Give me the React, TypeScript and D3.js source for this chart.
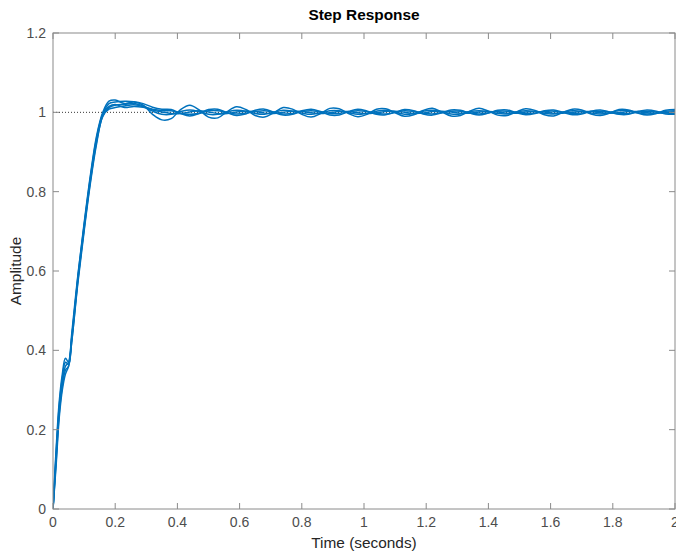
import React from 'react';
import * as d3 from 'd3';

const width = 676;
const height = 552;
const margins = { top: 33, bottom: 43, left: 53, right: 1 };

// sample times (seconds)
const times = [
  0, 0.01, 0.02, 0.03, 0.04, 0.05, 0.06, 0.08, 0.1, 0.12, 0.14, 0.16, 0.18, 0.2, 0.23, 0.26, 0.29, 0.32,
  0.35, 0.38, 0.41, 0.44, 0.47, 0.5, 0.53, 0.56, 0.59, 0.62,
  0.65, 0.68, 0.71, 0.74, 0.77, 0.8, 0.83, 0.86, 0.89, 0.92,
  0.95, 0.98, 1.01, 1.04, 1.07, 1.1, 1.13, 1.16, 1.19, 1.22,
  1.25, 1.28, 1.31, 1.34, 1.37, 1.4, 1.43, 1.46, 1.49, 1.52,
  1.55, 1.58, 1.61, 1.64, 1.67, 1.7, 1.73, 1.76, 1.79, 1.82,
  1.85, 1.88, 1.91, 1.94, 1.97, 2.0,
];

const responseA = [
  0, 0.15, 0.27, 0.34, 0.38, 0.37, 0.44, 0.59, 0.72, 0.84, 0.94, 1.0, 1.028, 1.031, 1.022, 1.026, 1.018, 0.995,
  0.981, 0.984, 1.007, 1.018, 1.006, 0.988, 0.986, 1.002, 1.014, 1.007,
  0.992, 0.988, 0.999, 1.012, 1.008, 0.995, 0.988, 0.997, 1.01, 1.009,
  0.997, 0.989, 0.995, 1.008, 1.009, 0.999, 0.99, 0.994, 1.005, 1.01,
  1.001, 0.991, 0.992, 1.003, 1.01, 1.003, 0.993, 0.992, 1.001, 1.009,
  1.005, 0.994, 0.991, 1.0, 1.008, 1.006, 0.996, 0.992, 0.998, 1.007,
  1.006, 0.998, 0.993, 0.997, 1.005, 1.007,
];

const responseB = [
  0, 0.13, 0.25, 0.32, 0.36, 0.37, 0.43, 0.58, 0.71, 0.83, 0.93, 0.995, 1.022, 1.026, 1.028, 1.027, 1.022, 1.013,
  1.008, 1.007, 0.997, 0.991, 0.997, 1.007, 1.008, 0.999, 0.992, 0.996,
  1.005, 1.008, 1.0, 0.993, 0.995, 1.004, 1.008, 1.002, 0.993, 0.993,
  1.002, 1.008, 1.003, 0.995, 0.994, 1.0, 1.007, 1.004, 0.996, 0.993,
  0.999, 1.006, 1.005, 0.998, 0.993, 0.998, 1.005, 1.006, 0.999, 0.994,
  0.997, 1.004, 1.006, 1.0, 0.994, 0.996, 1.003, 1.006, 1.001, 0.995,
  0.995, 1.002, 1.006, 1.003, 0.996, 0.995,
];

const responseC = [
  0, 0.12, 0.24, 0.31, 0.35, 0.36, 0.42, 0.57, 0.7, 0.82, 0.92, 0.99, 1.008, 1.012, 1.016, 1.019, 1.014, 1.003,
  0.995, 0.995, 1.002, 1.006, 1.002, 0.995, 0.995, 1.001, 1.005, 1.003,
  0.997, 0.995, 1.0, 1.005, 1.003, 0.998, 0.995, 0.999, 1.004, 1.004,
  0.999, 0.995, 0.998, 1.003, 1.005, 1.0, 0.995, 0.997, 1.003, 1.005,
  1.001, 0.996, 0.996, 1.002, 1.004, 1.002, 0.997, 0.996, 1.001, 1.004,
  1.002, 0.997, 0.996, 1.0, 1.004, 1.003, 0.998, 0.996, 0.999, 1.004,
  1.004, 0.999, 0.996, 0.998, 1.003, 1.004,
];

const responseD = [
  0, 0.14, 0.26, 0.33, 0.37, 0.365, 0.43, 0.585, 0.715, 0.835, 0.935, 0.995, 1.015, 1.02, 1.012, 1.015, 1.013, 1.008,
  1.004, 1.004, 0.998, 0.995, 0.998, 1.004, 1.004, 0.999, 0.996, 0.998,
  1.002, 1.004, 1.0, 0.996, 0.997, 1.002, 1.004, 1.001, 0.997, 0.997,
  1.001, 1.004, 1.002, 0.997, 0.996, 1.0, 1.004, 1.002, 0.998, 0.996,
  0.999, 1.003, 1.003, 0.999, 0.996, 0.999, 1.003, 1.003, 0.999, 0.997,
  0.998, 1.002, 1.003, 1.0, 0.997, 0.998, 1.002, 1.003, 1.001, 0.997,
  0.997, 1.001, 1.003, 1.001, 0.998, 0.997,
];

const responseE = [
  0, 0.11, 0.23, 0.3, 0.34, 0.36, 0.42, 0.575, 0.705, 0.825, 0.925, 0.99, 1.012, 1.018, 1.02, 1.022, 1.016, 1.006,
  1.001, 0.997, 0.997, 1.001, 1.004, 1.001, 0.997, 0.997, 1.001, 1.003,
  1.002, 0.998, 0.997, 1.0, 1.003, 1.002, 0.999, 0.997, 0.999, 1.002,
  1.002, 0.999, 0.997, 0.999, 1.002, 1.003, 1.0, 0.997, 0.998, 1.002,
  1.003, 1.001, 0.998, 0.998, 1.001, 1.002, 1.001, 0.998, 0.998, 1.001,
  1.002, 1.001, 0.998, 0.998, 1.0, 1.002, 1.002, 0.999, 0.998, 0.999,
  1.002, 1.002, 0.999, 0.998, 0.999, 1.002,
];

const responses = [responseA, responseB, responseC, responseD, responseE];

const xTicks = [0, 0.2, 0.4, 0.6, 0.8, 1, 1.2, 1.4, 1.6, 1.8, 2];
const yTicks = [0, 0.2, 0.4, 0.6, 0.8, 1, 1.2];
const steadyValue = 1;

const font = "'Liberation Sans', Arial, Helvetica, sans-serif";
const axisColor = '#8a8a8a';
const tickText = '#4d4d4d';
const lineColor = '#0072BD';

export default function App() {
  const x = d3.scaleLinear().domain([0, 2]).range([margins.left, width - margins.right]);
  const y = d3.scaleLinear().domain([0, 1.2]).range([height - margins.bottom, margins.top]);
  const x0 = margins.left;
  const x1 = width - margins.right;
  const y0 = height - margins.bottom;
  const y1 = margins.top;
  const tickLen = 6;
  const fmt = d3.format('~g');

  const line = d3
    .line<number>()
    .x((_, i) => x(times[i]))
    .y((d) => y(d))
    .curve(d3.curveCatmullRom.alpha(0.5));

  return (
    <svg
      width={width}
      height={height}
      style={{ position: 'absolute', left: 0, top: 0, display: 'block', background: '#fff' }}
    >
      <defs>
        <clipPath id="plotArea">
          <rect x={x0} y={y1} width={x1 - x0} height={y0 - y1} />
        </clipPath>
      </defs>

      {/* steady state reference */}
      <line
        x1={x0}
        x2={x1}
        y1={y(steadyValue)}
        y2={y(steadyValue)}
        stroke="#000"
        strokeWidth={0.8}
        strokeDasharray="1,2"
      />

      <g clipPath="url(#plotArea)">
        {responses.map((r, i) => (
          <path key={i} d={line(r) || ''} fill="none" stroke={lineColor} strokeWidth={1.5} />
        ))}
      </g>

      {/* box */}
      <rect x={x0} y={y1} width={x1 - x0} height={y0 - y1} fill="none" stroke={axisColor} strokeWidth={1} />

      {xTicks.map((t) => (
        <g key={'x' + t}>
          <line x1={x(t)} x2={x(t)} y1={y0} y2={y0 - tickLen} stroke={axisColor} />
          <line x1={x(t)} x2={x(t)} y1={y1} y2={y1 + tickLen} stroke={axisColor} />
          <text
            x={x(t)}
            y={y0 + 18}
            textAnchor="middle"
            fontFamily={font}
            fontSize={14}
            fill={tickText}
          >
            {fmt(t)}
          </text>
        </g>
      ))}

      {yTicks.map((t) => (
        <g key={'y' + t}>
          <line x1={x0} x2={x0 + tickLen} y1={y(t)} y2={y(t)} stroke={axisColor} />
          <line x1={x1} x2={x1 - tickLen} y1={y(t)} y2={y(t)} stroke={axisColor} />
          <text
            x={x0 - 7}
            y={y(t) + 5}
            textAnchor="end"
            fontFamily={font}
            fontSize={14}
            fill={tickText}
          >
            {fmt(t)}
          </text>
        </g>
      ))}

      <text
        x={(x0 + x1) / 2}
        y={20}
        textAnchor="middle"
        fontFamily={font}
        fontSize={15.4}
        fontWeight="bold"
        fill="#000"
      >
        Step Response
      </text>
      <text
        x={(x0 + x1) / 2}
        y={548}
        textAnchor="middle"
        fontFamily={font}
        fontSize={15.4}
        fill="#262626"
      >
        Time (seconds)
      </text>
      <text
        transform={`translate(21,${(y0 + y1) / 2}) rotate(-90)`}
        textAnchor="middle"
        fontFamily={font}
        fontSize={15.4}
        fill="#262626"
      >
        Amplitude
      </text>
    </svg>
  );
}
